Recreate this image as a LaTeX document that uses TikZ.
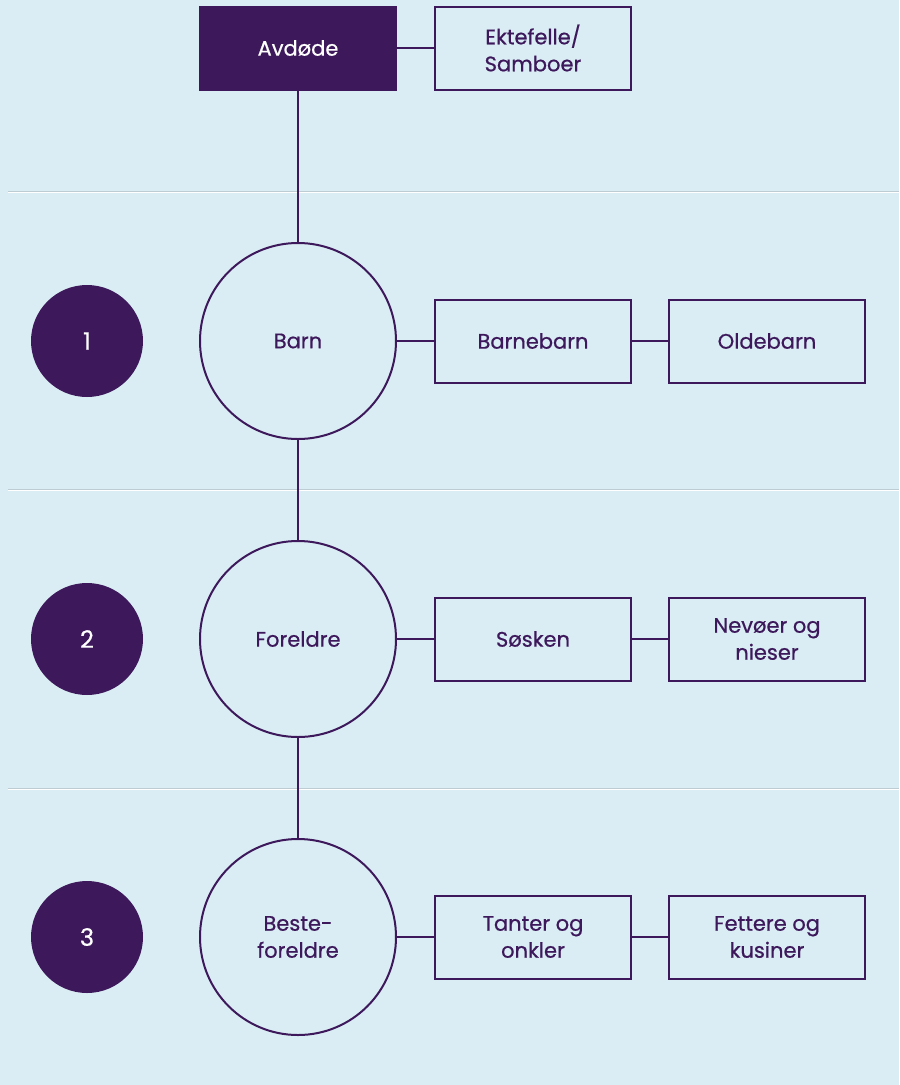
\documentclass[tikz,border=0pt]{standalone}
\usepackage{fontspec}
\setmainfont{Poppins}[FakeBold=0.6]
\usetikzlibrary{positioning}
\definecolor{bakgrunn}{RGB}{218,237,244}
\definecolor{lilla}{RGB}{61,25,91}
\definecolor{skille}{RGB}{188,204,210}

\begin{document}
\begin{tikzpicture}[x=1pt, y=-1pt,
  boks/.style={draw=lilla, line width=2pt, minimum width=196pt, minimum height=83pt,
    inner sep=0pt, align=center, text=lilla, font=\fontsize{21}{27}\selectfont},
  sirkel/.style={circle, draw=lilla, line width=2pt, minimum size=196pt,
    inner sep=0pt, align=center, text=lilla, font=\fontsize{21}{27}\selectfont},
  nummer/.style={circle, fill=lilla, minimum size=112pt, inner sep=0pt,
    text=white, font=\fontsize{24}{28}\selectfont},
  linje/.style={draw=lilla, line width=2pt}]
  %%%%% START %%%%%

  \fill[bakgrunn] (0,0) rectangle (899,1085);

  % skillelinjer
  \draw[skille, line width=1pt] (8,191) -- (899,191);
  \draw[white, line width=0.8pt] (8,192.4) -- (899,192.4);
  \draw[skille, line width=1pt] (8,489) -- (899,489);
  \draw[white, line width=0.8pt] (8,490.4) -- (899,490.4);
  \draw[skille, line width=1pt] (8,788) -- (899,788);
  \draw[white, line width=0.8pt] (8,789.4) -- (899,789.4);

  % avdoede
  \node[boks, fill=lilla, text=white] (avdode) at (298,48) {Avdøde};
  \node[boks] (ektefelle) at (533,48) {Ektefelle/\\Samboer};

  % arveklasse 1
  \node[nummer] (nr1) at (87,341) {1};
  \node[sirkel] (barn) at (298,341) {Barn};
  \node[boks] (barnebarn) at (533,341) {Barnebarn};
  \node[boks] (oldebarn) at (767,341) {Oldebarn};

  % arveklasse 2
  \node[nummer] (nr2) at (87,639) {2};
  \node[sirkel] (foreldre) at (298,639) {Foreldre};
  \node[boks] (sosken) at (533,639) {Søsken};
  \node[boks] (nevoer) at (767,639) {Nevøer og\\nieser};

  % arveklasse 3
  \node[nummer] (nr3) at (87,937) {3};
  \node[sirkel] (beste) at (298,937) {Beste-\\foreldre};
  \node[boks] (tanter) at (533,937) {Tanter og\\onkler};
  \node[boks] (fettere) at (767,937) {Fettere og\\kusiner};

  % linjer
  \draw[linje] (avdode) -- (ektefelle);
  \draw[linje] (avdode) -- (barn);
  \draw[linje] (barn) -- (foreldre);
  \draw[linje] (foreldre) -- (beste);
  \draw[linje] (barn) -- (barnebarn);
  \draw[linje] (barnebarn) -- (oldebarn);
  \draw[linje] (foreldre) -- (sosken);
  \draw[linje] (sosken) -- (nevoer);
  \draw[linje] (beste) -- (tanter);
  \draw[linje] (tanter) -- (fettere);

  %%%%% END %%%%%
\end{tikzpicture}
\end{document}
